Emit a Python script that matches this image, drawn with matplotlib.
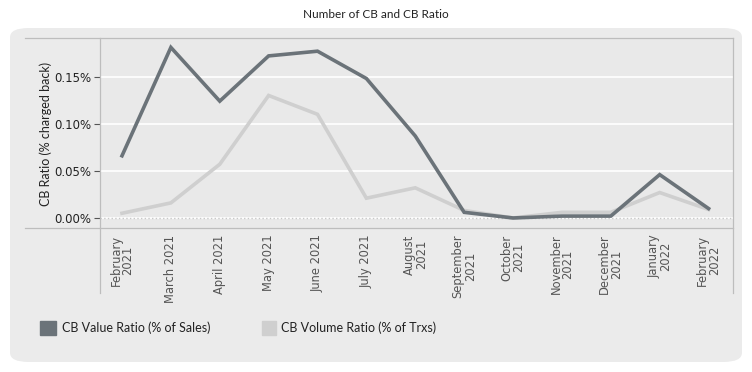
import matplotlib.pyplot as plt
from matplotlib.patches import FancyBboxPatch
from matplotlib.lines import Line2D
from matplotlib.ticker import FuncFormatter

months = ['February\n2021', 'March 2021', 'April 2021', 'May 2021', 'June 2021',
          'July 2021', 'August\n2021', 'September\n2021', 'October\n2021',
          'November\n2021', 'December\n2021', 'January\n2022', 'February\n2022']

# values in percent
value_ratio = [0.066, 0.181, 0.124, 0.172, 0.177, 0.148, 0.087, 0.006, 0.000,
               0.002, 0.002, 0.046, 0.010]
volume_ratio = [0.005, 0.016, 0.057, 0.130, 0.110, 0.021, 0.032, 0.008, 0.000,
                0.006, 0.006, 0.027, 0.009]

W, H = 752, 372
fig = plt.figure(figsize=(W / 100, H / 100), dpi=100)
fig.patch.set_facecolor('white')

# rounded panel behind everything
box = FancyBboxPatch((10 / W, 1 - 362 / H), 732 / W, 334 / H,
                     boxstyle='round,pad=0,rounding_size=0.025',
                     transform=fig.transFigure, facecolor='#ebebeb',
                     edgecolor='none', zorder=-5)
fig.patches.append(box)

fig.text(0.5, 1 - 15 / H, 'Number of CB and CB Ratio', ha='center', va='center',
         fontsize=8.5, family='Lato', color='#222222')

ax = fig.add_axes([100 / W, 1 - 229 / H, 633 / W, 191 / H])
ax.set_zorder(1)
ax.set_facecolor('#e9e9e9')
for s in ax.spines.values():
    s.set_visible(False)

x = range(len(months))
ax.plot(x, volume_ratio, color='#cfcfcf', lw=2.6, solid_joinstyle='miter', zorder=3)
ax.plot(x, value_ratio, color='#6b7379', lw=2.6, solid_joinstyle='miter', zorder=4)

ax.set_xlim(-0.45, 12.5)
ax.set_ylim(-0.0117, 0.191)
ax.set_yticks([0, 0.05, 0.10, 0.15])
ax.yaxis.set_major_formatter(FuncFormatter(lambda v, p: f'{v:.2f}%'))
ax.tick_params(axis='y', length=4, width=0.8, color='#555555', labelsize=8.5,
               labelcolor='#222222', pad=2)
ax.grid(axis='y', color='white', lw=1.2)
ax.axhline(0, color='#c8c8c8', lw=1, ls=':', zorder=2)
ax.set_axisbelow(True)

ax.set_xticks(list(x))
ax.set_xticklabels(months, rotation=90, fontsize=8.3, color='#555555',
                   family='DejaVu Sans', linespacing=0.9)
ax.tick_params(axis='x', length=0, pad=4)

ax.set_ylabel('CB Ratio (% charged back)', fontsize=9, family='Lato',
              color='#222222', labelpad=2)

# frame lines
line_col = '#bdbdbd'
for (x0, y0, x1, y1) in [(25, 38, 733, 38), (25, 228, 733, 228),
                         (100, 38, 100, 293), (733, 38, 733, 293)]:
    fig.add_artist(Line2D([x0 / W, x1 / W], [1 - y0 / H, 1 - y1 / H],
                          transform=fig.transFigure, color=line_col, lw=0.9,
                          zorder=5))

# legend
fig.patches.append(plt.Rectangle((40 / W, 1 - 335 / H), 16 / W, 14 / H,
                                 transform=fig.transFigure, color='#6b7379'))
fig.text(62 / W, 1 - 328 / H, 'CB Value Ratio (% of Sales)', va='center',
         fontsize=9, family='Lato', color='#222222')
fig.patches.append(plt.Rectangle((262 / W, 1 - 335 / H), 14 / W, 14 / H,
                                 transform=fig.transFigure, color='#cfcfcf'))
fig.text(281 / W, 1 - 328 / H, 'CB Volume Ratio (% of Trxs)', va='center',
         fontsize=9, family='Lato', color='#222222')

fig.savefig('out.png', dpi=100)
